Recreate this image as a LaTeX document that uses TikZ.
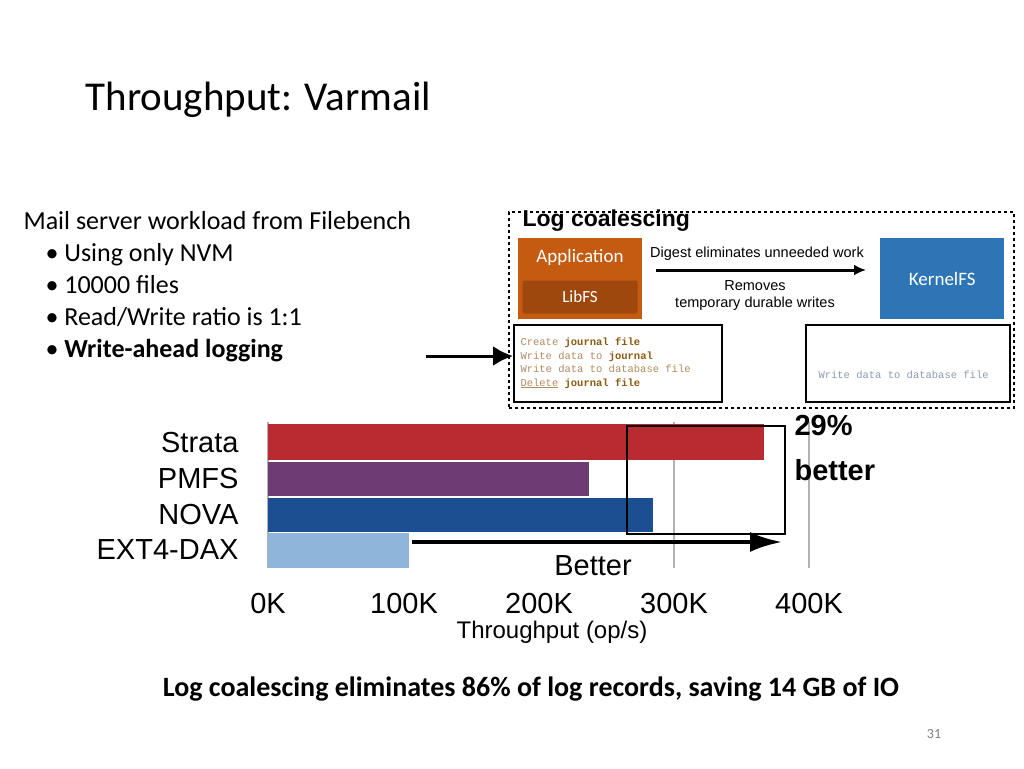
\documentclass[tikz,border=0pt]{standalone}
\usepackage{fontspec}
\setmainfont{Carlito}
\newfontfamily\arial{Liberation Sans}
\newfontfamily\cour{Liberation Mono}
\usetikzlibrary{arrows.meta}
\definecolor{appc}{HTML}{C55A11}
\definecolor{libc}{HTML}{9E480E}
\definecolor{kfs}{HTML}{2E75B6}
\definecolor{codec}{HTML}{B08A60}
\definecolor{codeb}{HTML}{8A5A10}
\definecolor{codeg}{HTML}{8A9AB0}
\definecolor{rstr}{HTML}{B92B30}
\definecolor{rpm}{HTML}{6E3B75}
\definecolor{rno}{HTML}{1B4F91}
\definecolor{rext}{HTML}{8FB5DA}
\begin{document}
\begin{tikzpicture}[x=1pt,y=-1pt,
  lbl/.style={font=\arial\fontsize{29}{31}\selectfont},
  tick/.style={font=\arial\fontsize{29}{31}\selectfont, anchor=north},
  code/.style={font=\cour\fontsize{10.5}{13.5}\selectfont, align=left, anchor=west}]
\useasboundingbox (0,0) rectangle (1024,768);
\node[anchor=west, font=\fontsize{41}{44}\selectfont] (title) at (82,100) {Throughput: Varmail};
\node[anchor=north west, align=left, font=\fontsize{26}{32}\selectfont] (lst) at (20,208)
 {Mail server workload from Filebench\\
  \hspace*{22pt}\textbullet\ Using only NVM\\
  \hspace*{22pt}\textbullet\ 10000 files\\
  \hspace*{22pt}\textbullet\ Read/Write ratio is 1:1\\
  \hspace*{22pt}\textbullet\ \textbf{Write-ahead logging}};
\coordinate (ast) at (426,356);
\node[draw, dashed, line width=1.8pt, minimum width=505pt, minimum height=196pt, anchor=north west] (lc) at (508,211) {};
\node[anchor=west, font=\arial\bfseries\fontsize{23}{25}\selectfont] (lct) at (519,221) {Log coalescing};
\node[fill=appc, minimum width=124pt, minimum height=81pt, anchor=north west] (app) at (518,238) {};
\node[text=white, font=\fontsize{19}{21}\selectfont] (appt) at (580,257) {Application};
\node[fill=libc, rounded corners=2pt, minimum width=115pt, minimum height=33pt, text=white, font=\fontsize{17}{19}\selectfont] (lib) at (580,297) {LibFS};
\node[fill=kfs, minimum width=124pt, minimum height=81pt, text=white, font=\fontsize{19}{21}\selectfont, anchor=north west] (kfs) at (880,238) {KernelFS};
\node[font=\arial\fontsize{14.5}{16}\selectfont] (dig) at (757,254) {Digest eliminates unneeded work};
\node[font=\arial\fontsize{14.5}{17}\selectfont, align=center] (rem) at (755,296) {Removes\\temporary durable writes};
\coordinate (a1) at (656,270);
\coordinate (a2) at (866,270);
\draw[-{Latex[length=12pt,width=11pt]}, line width=3pt] (a1) -- (a2);
\node[draw, line width=2pt, minimum width=208pt, minimum height=77pt, anchor=north west] (cb1) at (513,324) {};
\node[code] (c1) at (517,363) {\textcolor{codec}{Create} \textcolor{codeb}{\textbf{journal file}}\\
 \textcolor{codec}{Write data to} \textcolor{codeb}{\textbf{journal}}\\
 \textcolor{codec}{Write data to database file}\\
 \textcolor{codec}{\underline{Delete}} \textcolor{codeb}{\textbf{journal file}}};
\node[draw, line width=2pt, minimum width=204pt, minimum height=77pt, anchor=north west] (cb2) at (805,324) {};
\node[code, text=codeg] (c2) at (815,375) {Write data to database file};
\draw[-{Latex[length=20pt,width=20pt]}, line width=3pt] (ast) -- (cb1.west |- ast);
% chart
\draw[gray!60, line width=1.2pt] (674,422) -- (674,568) (809,422) -- (809,568);
\draw[gray!60, line width=1.2pt] (268,422) -- (268,568);
\fill[rstr] (268,424) rectangle (764,460);
\fill[rpm] (268,462) rectangle (589,496);
\fill[rno] (268,498) rectangle (653,532);
\fill[rext] (268,533) rectangle (409,568);
\node[lbl, anchor=east] (s) at (242,443) {Strata};
\node[lbl, anchor=east] (p) at (242,479) {PMFS};
\node[lbl, anchor=east] (n) at (242,515) {NOVA};
\node[lbl, anchor=east] (e) at (242,550) {EXT4-DAX};
\node[draw, line width=2pt, minimum width=158pt, minimum height=108pt, anchor=north west] (hb) at (626,425) {};
\node[anchor=west, font=\arial\bfseries\fontsize{29}{31}\selectfont] (pct) at (791,426) {29\%};
\node[anchor=west, font=\arial\bfseries\fontsize{29}{31}\selectfont] (bet) at (791,470) {better};
\coordinate (bs) at (412,542);
\coordinate (be) at (782,542);
\draw[-{Latex[length=32pt,width=20pt]}, line width=4pt] (bs) -- (be);
\node[lbl] (better) at (593,566) {Better};
\node[tick] (t0) at (268,590) {0K};
\node[tick] (t1) at (404,590) {100K};
\node[tick] (t2) at (539,590) {200K};
\node[tick] (t3) at (674,590) {300K};
\node[tick] (t4) at (809,590) {400K};
\node[font=\arial\fontsize{24}{26}\selectfont] (xl) at (552,632) {Throughput (op/s)};
\node[font=\bfseries\fontsize{28}{30}\selectfont] (bot) at (531,689) {Log coalescing eliminates 86\% of log records, saving 14 GB of IO};
\node[text=gray, font=\fontsize{14}{16}\selectfont] (pg) at (934,734) {31};
\end{tikzpicture}
\end{document}
